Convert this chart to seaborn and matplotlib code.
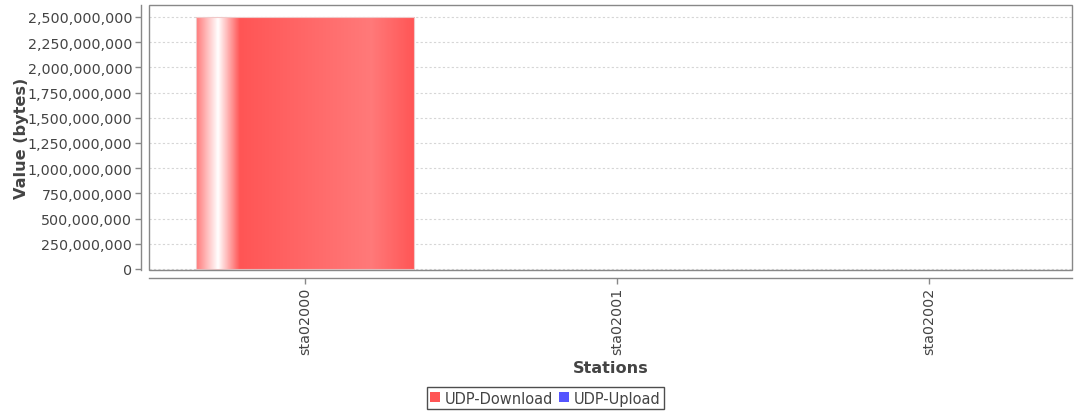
import numpy as np
import pandas as pd
import matplotlib
matplotlib.use("Agg")
import matplotlib.pyplot as plt
from matplotlib.patches import Rectangle
from matplotlib.lines import Line2D
from matplotlib.ticker import FuncFormatter, MultipleLocator
from matplotlib.colors import to_rgb
import seaborn as sns

stations = ["sta02000", "sta02001", "sta02002"]
udp_download = [2_500_000_000, 0, 0]
udp_upload = [0, 0, 0]
series_names = ["UDP-Download", "UDP-Upload"]
series_colors = ["#FF5555", "#5555FF"]

sns.set_theme(style="white")
plt.rcParams["font.family"] = ["DejaVu Sans"]

TEXT = "#444444"
AXIS = "#888888"

df = pd.DataFrame({"Station": stations, "UDP-Download": udp_download, "UDP-Upload": udp_upload})

fig = plt.figure(figsize=(10.74, 4.14), dpi=100)
ax = fig.add_axes([149 / 1074, 1 - 271 / 414, (1072 - 149) / 1074, (271 - 6) / 414])

sns.barplot(data=df, x="Station", y="UDP-Download", color=series_colors[0],
            width=0.7, saturation=1, linewidth=0, ax=ax, zorder=2)
n_dl = len(ax.patches)
sns.barplot(data=df, x="Station", y="UDP-Upload", color=series_colors[1],
            width=0.7, saturation=1, linewidth=0, ax=ax, zorder=2)

# Glossy gradient fill for the download bars
base = np.array(to_rgb(series_colors[0]))
bright = np.minimum(base / 0.7, 1.0)
white = np.ones(3)
stops = [0.0, 0.1, 0.2, 0.8, 1.0]
cols = [bright, white, base, bright, base]
xs = np.linspace(0, 1, 400)
grad = np.zeros((1, len(xs), 3))
for c in range(3):
    grad[0, :, c] = np.interp(xs, stops, [col[c] for col in cols])
for p in ax.patches[:n_dl]:
    h = p.get_height()
    if h <= 0:
        continue
    x0, w = p.get_x(), p.get_width()
    im = ax.imshow(grad, extent=[x0, x0 + w, 0, h], aspect="auto",
                   interpolation="bilinear", zorder=3)
    im.set_clip_path(p)
    ax.add_patch(Rectangle((x0, 0), w, h, fill=False, edgecolor="#f0c8c8",
                           linewidth=0.8, zorder=4))

ax.set_xlim(-0.5, 2.458)
ax.set_ylim(-1.0e7, 2.619e9)

ax.yaxis.set_major_locator(MultipleLocator(250_000_000))
ax.yaxis.set_major_formatter(FuncFormatter(lambda v, _: f"{int(round(v)):,}"))
ax.yaxis.grid(True, color="#d6d6d6", linestyle=(0, (2, 2)), linewidth=0.8)
ax.xaxis.grid(False)
ax.set_axisbelow(True)

for s in ["top", "right"]:
    ax.spines[s].set_visible(False)
ax.spines["left"].set_position(("outward", 6))
ax.spines["bottom"].set_position(("outward", 6))
ax.spines["left"].set_color(AXIS)
ax.spines["bottom"].set_color(AXIS)
ax.spines["left"].set_linewidth(1)
ax.spines["bottom"].set_linewidth(1)
ax.add_patch(Rectangle((0, 0), 1, 1, transform=ax.transAxes, fill=False,
                       edgecolor=AXIS, linewidth=1, clip_on=False, zorder=5))

ax.tick_params(axis="y", direction="out", length=4, width=1, color=AXIS,
               pad=2, labelsize=10.3, labelcolor=TEXT, left=True)
ax.tick_params(axis="x", direction="out", length=4, width=1, color=AXIS,
               pad=2, labelsize=10.3, labelcolor=TEXT, bottom=True)
for lab in ax.get_xticklabels():
    lab.set_rotation(90)
    lab.set_ha("center")
    lab.set_va("top")

ax.set_xlabel("Stations", fontsize=11.6, fontweight="bold", color=TEXT, labelpad=4)
ax.set_ylabel("Value (bytes)", fontsize=11.6, fontweight="bold", color=TEXT, labelpad=-1)

handles = [Line2D([], [], marker="s", linestyle="none", markersize=7,
                  markerfacecolor=c, markeredgewidth=0) for c in series_colors]
leg = fig.legend(handles, series_names, loc="center", bbox_to_anchor=(0.508, 0.036),
                 fontsize=10.5, frameon=True, fancybox=False, shadow=False,
                 handlelength=0.6, handletextpad=0.35, columnspacing=0.5,
                 borderpad=0.25, borderaxespad=0, ncol=2, labelcolor=TEXT)
leg.get_frame().set_edgecolor("#222222")
leg.get_frame().set_linewidth(1)
leg.get_frame().set_facecolor("white")

fig.savefig("out.png", dpi=100, facecolor="white")
